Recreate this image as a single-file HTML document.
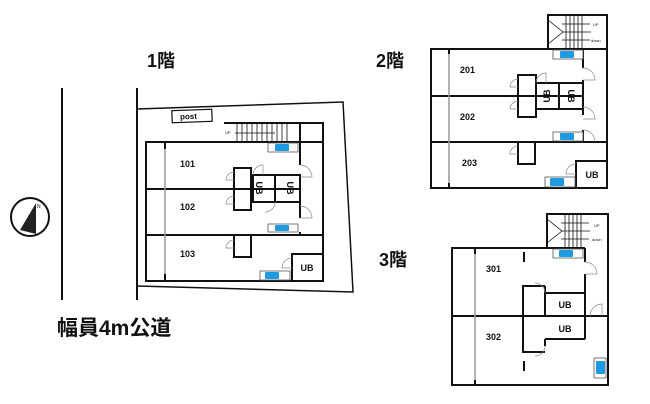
<!DOCTYPE html>
<html><head><meta charset="utf-8"><style>
html,body{margin:0;padding:0;background:#fff;}
svg{display:block;}
text{font-family:"Liberation Sans","Noto Sans CJK JP",sans-serif;font-weight:bold;fill:#111;}
</style></head><body>
<svg width="650" height="404" viewBox="0 0 650 404" xmlns="http://www.w3.org/2000/svg">
<g stroke="#111" fill="none">
<line x1="62" y1="88" x2="62" y2="300" stroke-width="2"/>
<line x1="137" y1="88" x2="137" y2="300" stroke-width="2"/>
<circle cx="30" cy="217" r="19" stroke-width="2"/>
</g>
<polygon points="36,203 20,230 36,234" fill="#222"/>
<text x="37" y="208" font-size="5" style="font-weight:normal">N</text>

<text x="147" y="67" font-size="18">1階</text>
<text x="376" y="67" font-size="18">2階</text>
<text x="379" y="266" font-size="18">3階</text>
<text x="57" y="335" font-size="21">幅員4m公道</text>

<!-- ============ Floor 1 ============ -->
<g stroke="#111" fill="none" stroke-width="1.5">
<polyline points="137,109 343,102 353,292 137,286"/>
</g>
<g transform="rotate(-2 192 116)">
<rect x="172" y="110" width="40" height="12" fill="#fff" stroke="#111" stroke-width="1.2"/>
<text x="180" y="119" font-size="8">post</text>
</g>
<g stroke="#111" fill="none" stroke-width="2">
<rect x="146" y="142" width="177" height="139"/>
<polyline points="224,123 323,123 323,142"/>
<line x1="300" y1="123" x2="300" y2="142"/>
<line x1="146" y1="189" x2="300" y2="189"/>
<line x1="146" y1="235" x2="323" y2="235"/>
<line x1="300" y1="142" x2="300" y2="165"/>
<line x1="300" y1="202" x2="300" y2="218"/>
<line x1="300" y1="232" x2="300" y2="235"/>
<rect x="234" y="168" width="17" height="42"/>
<rect x="253" y="175" width="22" height="27"/>
<rect x="275" y="175" width="25" height="27"/>
<rect x="234" y="235" width="17" height="22"/>
<rect x="292" y="254" width="31" height="27"/>
</g>
<g stroke="#999" stroke-width="1.5"><line x1="165" y1="147" x2="165" y2="276"/></g>
<g stroke="#111" stroke-width="2"><line x1="165" y1="142" x2="165" y2="149"/><line x1="165" y1="274" x2="165" y2="281"/></g>
<g stroke="#111" stroke-width="0.8">
<line x1="237" y1="123" x2="237" y2="142"/><line x1="242" y1="123" x2="242" y2="142"/><line x1="247" y1="123" x2="247" y2="142"/><line x1="252" y1="123" x2="252" y2="142"/><line x1="257" y1="123" x2="257" y2="142"/><line x1="262" y1="123" x2="262" y2="142"/><line x1="267" y1="123" x2="267" y2="142"/><line x1="272" y1="123" x2="272" y2="142"/><line x1="277" y1="123" x2="277" y2="142"/><line x1="282" y1="123" x2="282" y2="142"/><line x1="287" y1="123" x2="287" y2="142"/>
<line x1="235" y1="133" x2="275" y2="133"/>
</g>
<text x="225" y="134" font-size="4" style="font-weight:normal">UP</text>
<g stroke="#888" fill="none" stroke-width="0.7">
<path d="M234,172 a8,8 0 0 0 -8,8 h8"/><path d="M234,196 a8,8 0 0 0 -8,8 h8"/><path d="M234,240 a8,8 0 0 0 -8,8 h8"/>
<path d="M253,175 a10,10 0 0 1 10,-10 v10"/><path d="M300,165 a12,12 0 0 1 12,12 h-12"/><path d="M300,206 a12,12 0 0 1 12,12 h-12"/>
<path d="M275,202 a10,10 0 0 1 -10,10"/><path d="M292,258 a10,10 0 0 0 -10,10 h10"/>
</g>
<g stroke="#555" stroke-width="0.8" fill="#fff">
<rect x="268" y="143" width="30" height="9"/><rect x="268" y="224" width="30" height="8"/><rect x="260" y="271" width="30" height="9"/>
</g>
<g fill="#1e9be0"><rect x="275" y="144" width="14" height="7" rx="1"/><rect x="275" y="225" width="14" height="6" rx="1"/><rect x="265" y="272" width="14" height="7" rx="1"/></g>
<text x="180" y="167" font-size="9">101</text>
<text x="180" y="210" font-size="9">102</text>
<text x="180" y="257" font-size="9">103</text>
<text x="263" y="195" font-size="9" transform="rotate(90 263 188)" text-anchor="middle">UB</text>
<text x="288" y="189" font-size="9" transform="rotate(90 288 188)" text-anchor="middle">UB</text>
<text x="307" y="271" font-size="9" text-anchor="middle">UB</text>

<!-- ============ Floor 2 ============ -->
<g stroke="#111" fill="none" stroke-width="2">
<rect x="431" y="49" width="176" height="139"/>
<polyline points="548,49 548,15 607,15 607,49"/>
<line x1="431" y1="96" x2="583" y2="96"/>
<line x1="431" y1="142" x2="607" y2="142"/>
<line x1="583" y1="49" x2="583" y2="68"/>
<line x1="583" y1="80" x2="583" y2="115"/>
<line x1="583" y1="130" x2="583" y2="142"/>
<rect x="518" y="75" width="18" height="42"/>
<rect x="536" y="83" width="23" height="26"/>
<rect x="559" y="83" width="24" height="26"/>
<rect x="518" y="142" width="17" height="22"/>
<rect x="576" y="161" width="31" height="27"/>
</g>
<g stroke="#999" stroke-width="1.5"><line x1="449" y1="52" x2="449" y2="185"/></g>
<g stroke="#111" stroke-width="2"><line x1="449" y1="49" x2="449" y2="54"/><line x1="449" y1="183" x2="449" y2="188"/></g>
<g stroke="#111" stroke-width="0.8" fill="none">
<polyline points="548,20 563,32 548,44"/>
<line x1="563" y1="32" x2="591" y2="32"/>
<line x1="566" y1="15" x2="566" y2="49"/><line x1="570" y1="15" x2="570" y2="49"/><line x1="574" y1="15" x2="574" y2="49"/><line x1="578" y1="15" x2="578" y2="49"/><line x1="582" y1="15" x2="582" y2="49"/>
<line x1="562" y1="24" x2="590" y2="24"/><line x1="562" y1="40" x2="590" y2="40"/>
</g>
<text x="593" y="26" font-size="4" style="font-weight:normal">UP</text>
<text x="591" y="42" font-size="4" style="font-weight:normal">down</text>
<g stroke="#888" fill="none" stroke-width="0.7">
<path d="M518,79 a8,8 0 0 0 -8,8 h8"/><path d="M518,101 a8,8 0 0 0 -8,8 h8"/><path d="M518,146 a8,8 0 0 0 -8,8 h8"/>
<path d="M536,83 a10,10 0 0 1 10,-10 v10"/><path d="M583,68 a12,12 0 0 1 12,12 h-12"/><path d="M583,107 a12,12 0 0 1 12,12 h-12"/><path d="M583,130 a12,12 0 0 1 12,12"/>
<path d="M576,164 a10,10 0 0 0 -10,10 h10"/>
</g>
<g stroke="#555" stroke-width="0.8" fill="#fff">
<rect x="553" y="50" width="30" height="9"/><rect x="553" y="132" width="30" height="9"/><rect x="545" y="177" width="30" height="10"/>
</g>
<g fill="#1e9be0"><rect x="560" y="51" width="14" height="7" rx="1"/><rect x="560" y="133" width="14" height="7" rx="1"/><rect x="550" y="178" width="14" height="8" rx="1"/></g>
<text x="460" y="73" font-size="9">201</text>
<text x="460" y="120" font-size="9">202</text>
<text x="462" y="166" font-size="9">203</text>
<text x="547" y="99" font-size="9" transform="rotate(-90 547 96)" text-anchor="middle">UB</text>
<text x="571" y="99" font-size="9" transform="rotate(90 571 96)" text-anchor="middle">UB</text>
<text x="592" y="178" font-size="9" text-anchor="middle">UB</text>

<!-- ============ Floor 3 ============ -->
<g stroke="#111" fill="none" stroke-width="2">
<polyline points="547,248 452,248 452,385 608,385 608,214 547,214 547,248 585,248"/>
<line x1="452" y1="316" x2="608" y2="316"/>
<line x1="585" y1="248" x2="585" y2="262"/>
<line x1="585" y1="274" x2="585" y2="339"/>
<line x1="545" y1="339" x2="585" y2="339"/>
<rect x="545" y="293" width="40" height="23"/>
<polyline points="545,286 523,286 523,352 545,352"/>
<line x1="545" y1="286" x2="545" y2="293"/><line x1="545" y1="339" x2="545" y2="346"/>
<line x1="524" y1="252" x2="524" y2="262"/><line x1="524" y1="361" x2="524" y2="371"/>
</g>
<g stroke="#999" stroke-width="1.5"><line x1="475" y1="252" x2="475" y2="382"/></g>
<g stroke="#111" stroke-width="2"><line x1="475" y1="248" x2="475" y2="254"/><line x1="475" y1="380" x2="475" y2="385"/></g>
<g stroke="#111" stroke-width="0.8" fill="none">
<polyline points="547,219 562,231 547,243"/>
<line x1="562" y1="231" x2="590" y2="231"/>
<line x1="565" y1="214" x2="565" y2="248"/><line x1="569" y1="214" x2="569" y2="248"/><line x1="573" y1="214" x2="573" y2="248"/><line x1="577" y1="214" x2="577" y2="248"/><line x1="581" y1="214" x2="581" y2="248"/>
<line x1="561" y1="223" x2="589" y2="223"/><line x1="561" y1="239" x2="589" y2="239"/>
</g>
<text x="594" y="227" font-size="4" style="font-weight:normal">UP</text>
<text x="592" y="241" font-size="4" style="font-weight:normal">down</text>
<g stroke="#888" fill="none" stroke-width="0.7">
<path d="M585,262 a12,12 0 0 1 12,12 h-12"/><path d="M545,293 a10,10 0 0 0 -10,-10"/><path d="M545,346 a10,10 0 0 1 -10,10"/><path d="M590,316 a12,12 0 0 1 12,-12 v12"/>
</g>
<g stroke="#555" stroke-width="0.8" fill="#fff">
<rect x="553" y="249" width="30" height="9"/><rect x="594" y="358" width="12" height="20"/>
</g>
<g fill="#1e9be0"><rect x="559" y="250" width="14" height="7" rx="1"/><rect x="596" y="361" width="9" height="13" rx="1"/></g>
<text x="486" y="272" font-size="9">301</text>
<text x="486" y="340" font-size="9">302</text>
<text x="565" y="308" font-size="9" text-anchor="middle">UB</text>
<text x="565" y="332" font-size="9" text-anchor="middle">UB</text>
</svg>
</body></html>
